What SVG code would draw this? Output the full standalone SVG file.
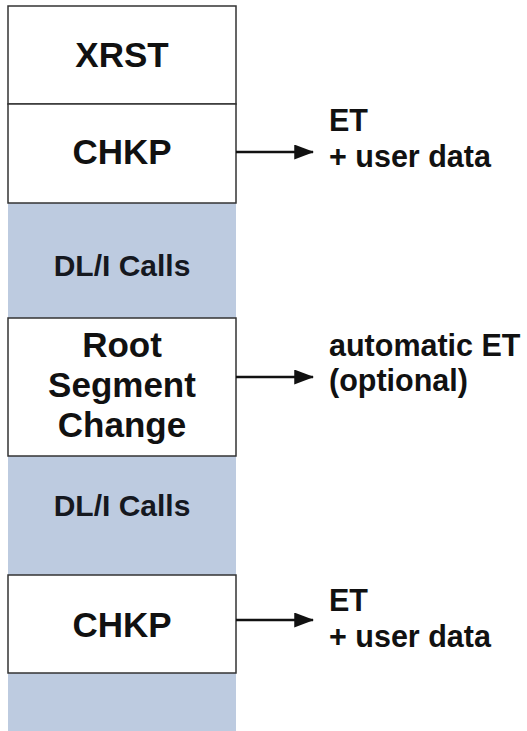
<svg xmlns="http://www.w3.org/2000/svg" width="527" height="731" viewBox="0 0 527 731">
<style>
.box{fill:#ffffff;stroke:#333333;stroke-width:1.5}
.band{fill:#bdcbe0}
.lbl{font-family:"Liberation Sans",Arial,sans-serif;font-weight:bold;font-size:35px;fill:#111111;text-anchor:middle}
.dli{font-family:"Liberation Sans",Arial,sans-serif;font-weight:bold;font-size:30px;fill:#15181f;text-anchor:middle}
.note{font-family:"Liberation Sans",Arial,sans-serif;font-weight:bold;font-size:30.5px;fill:#111111}
.conn{stroke:#111111;stroke-width:2.5;fill:none}
</style>
<defs>
<marker id="ah" markerWidth="8" markerHeight="6" refX="7.5" refY="3" orient="auto" markerUnits="strokeWidth">
<path d="M0,0 L8,3 L0,6 Z" fill="#111111"/>
</marker>
</defs>
<rect x="0" y="0" width="527" height="731" fill="#ffffff"/>
<g id="band1"><rect class="band" x="8" y="203" width="228" height="115"/><text class="dli" x="122" y="276">DL/I Calls</text></g>
<g id="band2"><rect class="band" x="8" y="456" width="228" height="119"/><text class="dli" x="122" y="516">DL/I Calls</text></g>
<g id="band3"><rect class="band" x="8" y="673" width="228" height="58"/></g>
<g id="xrst"><rect class="box" x="8" y="6" width="228" height="98"/><text class="lbl" x="122" y="67">XRST</text></g>
<g id="chkp1"><rect class="box" x="8" y="104" width="228" height="99"/><text class="lbl" x="122" y="164">CHKP</text></g>
<g id="root"><rect class="box" x="8" y="318" width="228" height="138"/><text class="lbl" x="122" y="357">Root</text><text class="lbl" x="122" y="397">Segment</text><text class="lbl" x="122" y="437">Change</text></g>
<g id="chkp2"><rect class="box" x="8" y="575" width="228" height="98"/><text class="lbl" x="122" y="637">CHKP</text></g>
<g id="connectors">
<line class="conn" x1="236" y1="152" x2="313" y2="152" marker-end="url(#ah)"/>
<line class="conn" x1="236" y1="377" x2="313" y2="377" marker-end="url(#ah)"/>
<line class="conn" x1="236" y1="620" x2="313" y2="620" marker-end="url(#ah)"/>
</g>
<g id="note1"><text class="note" x="329" y="131">ET</text><text class="note" x="329" y="167">+ user data</text></g>
<g id="note2"><text class="note" x="329" y="356">automatic ET</text><text class="note" x="329" y="391">(optional)</text></g>
<g id="note3"><text class="note" x="329" y="611">ET</text><text class="note" x="329" y="647">+ user data</text></g>
</svg>
